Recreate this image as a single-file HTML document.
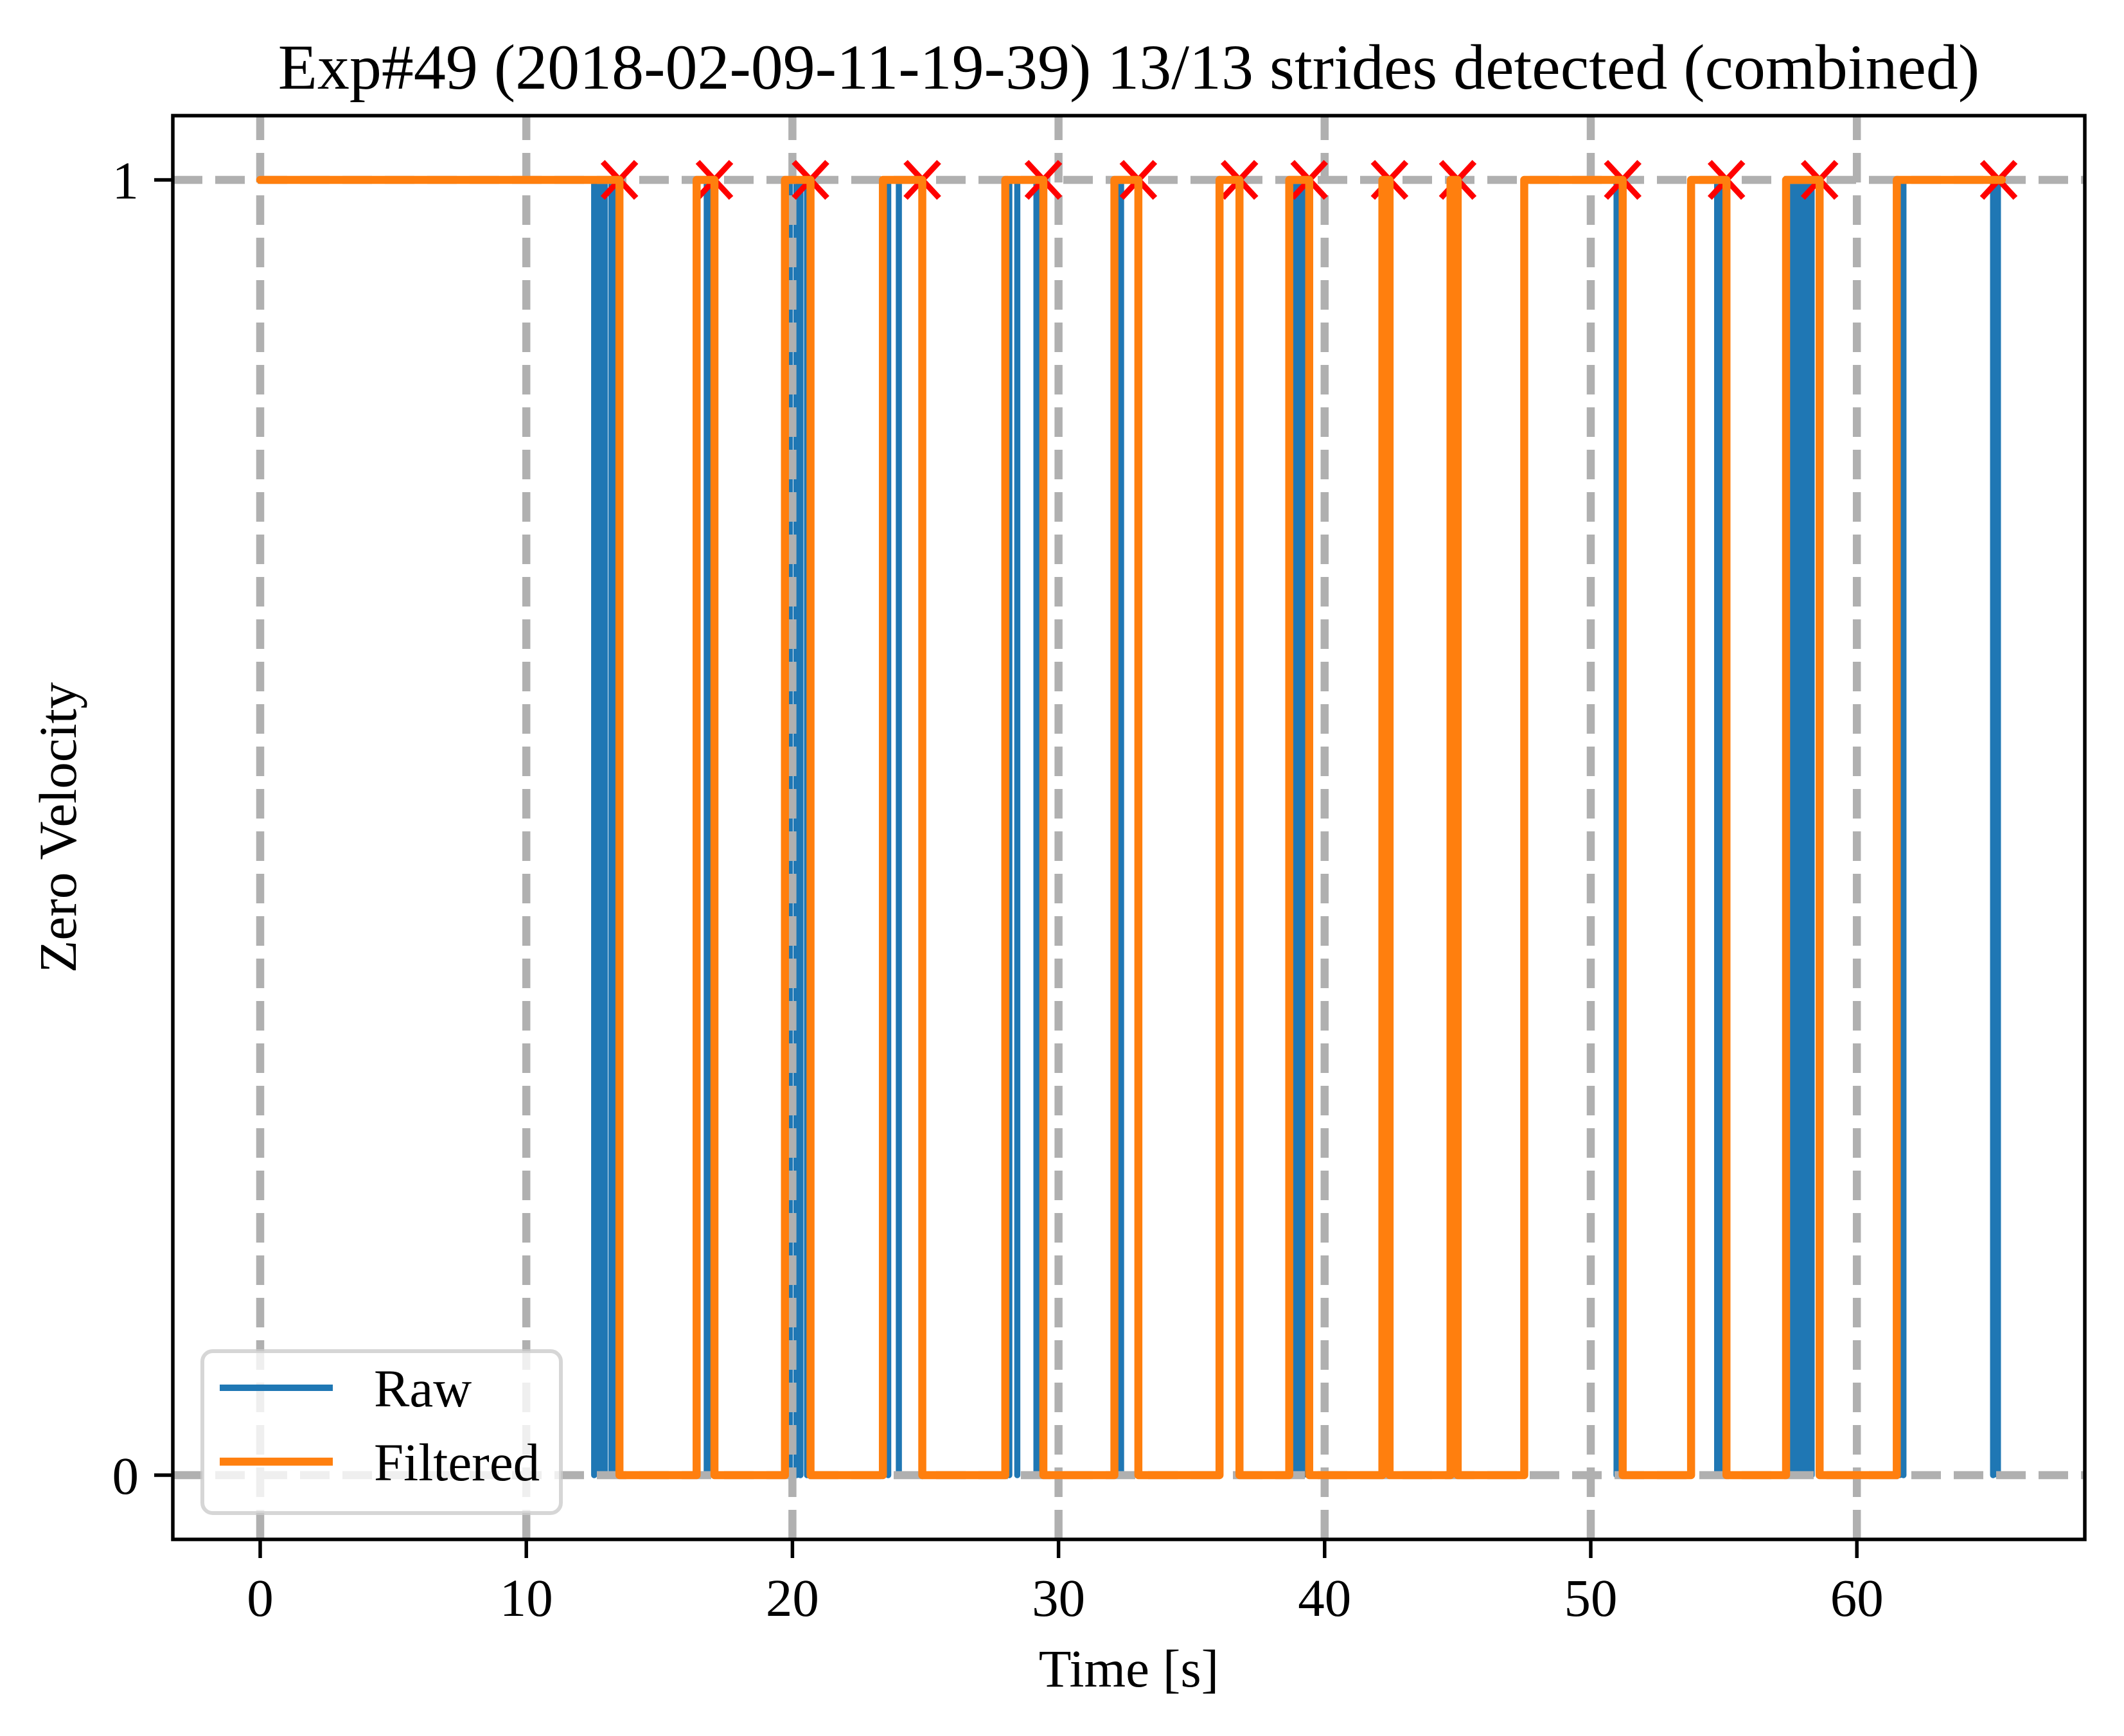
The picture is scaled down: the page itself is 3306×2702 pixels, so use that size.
<!DOCTYPE html>
<html><head><meta charset="utf-8"><style>
html,body{margin:0;padding:0;background:#fff;}
svg{display:block;}
text{font-family:"Liberation Serif","DejaVu Serif",serif;fill:#000;}
</style></head><body>
<svg id="chart" width="3306" height="2702" viewBox="0 0 3306 2702" xmlns="http://www.w3.org/2000/svg">
<defs><clipPath id="plotclip"><rect x="269" y="180" width="2976" height="2216"/></clipPath></defs>
<rect x="0" y="0" width="3306" height="2702" fill="#fff"/>
<text x="1757" y="138" font-size="100" text-anchor="middle">Exp#49 (2018-02-09-11-19-39) 13/13 strides detected (combined)</text>
<g id="rawlayer" clip-path="url(#plotclip)"></g>
<g id="grid" clip-path="url(#plotclip)"></g>
<g id="marks" clip-path="url(#plotclip)"></g>
<g id="axes"></g>
<text x="1757" y="2625" font-size="83" text-anchor="middle">Time [s]</text>
<text transform="translate(118,1288) rotate(-90)" font-size="83" text-anchor="middle">Zero Velocity</text>
<g>
<rect x="315" y="2103" width="558" height="252" rx="16" ry="16" fill="rgba(255,255,255,0.8)" stroke="rgba(204,204,204,0.8)" stroke-width="6"/>
<g>
<line x1="342" y1="2160" x2="518" y2="2160" stroke="#1f77b4" stroke-width="10"/>
<text x="582" y="2189" font-size="83">Raw</text></g>
<g>
<line x1="342" y1="2275" x2="518" y2="2275" stroke="#ff7f0e" stroke-width="12.5"/>
<text x="582" y="2304" font-size="83">Filtered</text></g>
</g>
</svg>
<script>
const xTicks = [0, 10, 20, 30, 40, 50, 60];
const yTicks = [0, 1];
const rawRise = [0, 12.75, 13.2, 16.78, 19.9, 20.3, 23.6, 28.15, 29.17, 32.25, 38.8, 39.05, 47.5, 54.75, 57.6, 57.9, 58.15, 61.6, 65.12];
const rawFall = [12.55, 12.95, 13.3, 16.86, 20.15, 20.55, 24.0, 28.45, 29.27, 32.35, 38.9, 39.2, 50.97, 54.85, 57.75, 58.05, 58.3, 61.75, 65.3];
const filtRise = [0, 16.4, 19.72, 23.4, 28.0, 32.1, 36.05, 38.67, 42.17, 44.73, 47.5, 53.77, 57.34, 61.5];
const filtFall = [13.5, 17.07, 20.68, 24.88, 29.43, 33.0, 36.8, 39.42, 42.44, 45.0, 51.2, 55.1, 58.6];
const filtEnd = 65.45;
const strideTimes = [13.5, 17.07, 20.68, 24.88, 29.43, 33.0, 36.8, 39.42, 42.44, 45.0, 51.2, 55.1, 58.6, 65.33];
const strideValues = [1,1,1,1,1,1,1,1,1,1,1,1,1,1];

const NS = "http://www.w3.org/2000/svg";
const X0 = 405, XS = 41.42;
function xs(t){ return X0 + t*XS; }
function ys(v){ return 2296 - v*(2296-280); }
function mk(tag, attrs, parent){ const e=document.createElementNS(NS,tag); for(const k in attrs) e.setAttribute(k, attrs[k]); parent.appendChild(e); return e; }

const grid = document.getElementById('grid');
const marks = document.getElementById('marks');
const rawLayer = document.getElementById('rawlayer');
const axes = document.getElementById('axes');
const gs = {stroke:'#b0b0b0','stroke-width':12.5,'stroke-dasharray':'46 20'};
xTicks.forEach(t=>{
  const l = mk('line', Object.assign({x1:xs(t),x2:xs(t),y1:2396,y2:180}, gs), grid);
  
  
});
yTicks.forEach(v=>{
  const l = mk('line', Object.assign({x1:269,x2:3245,y1:ys(v),y2:ys(v)}, gs), grid);
  
  
});

strideTimes.forEach((t,i)=>{
  const cx = xs(t), cy = ys(strideValues[i]);
  const p = mk('path', {d:`M${cx-26},${cy-28}L${cx+26},${cy+28}M${cx-26},${cy+28}L${cx+26},${cy-28}`, stroke:'#ff0000','stroke-width':9, fill:'none'}, marks);
  
  
});

// raw transitions: vertical edges only (horizontal runs hidden under grid / filtered line)
let rd = '';
rawRise.concat(rawFall).forEach(t=>{
  if(t <= 0) return;
  rd += `M${xs(t)},${ys(0)}L${xs(t)},${ys(1)}`;
});
const raw = mk('path', {d:rd, stroke:'#1f77b4','stroke-width':9.5, fill:'none','stroke-linecap':'round'}, rawLayer);



function stepPath(rise, fall, end){
  let d = '';
  let first = true;
  const ev = [];
  rise.forEach(t=>ev.push([t,1]));
  fall.forEach(t=>ev.push([t,0]));
  ev.sort((a,b)=>a[0]-b[0]);
  let cur = null;
  ev.forEach(([t,v])=>{
    if(first){ d += `M${xs(t)},${ys(v)}`; first=false; cur=v; return; }
    d += `L${xs(t)},${ys(cur)}L${xs(t)},${ys(v)}`; cur=v;
  });
  d += `L${xs(end)},${ys(cur)}`;
  return d;
}
const filt = mk('path', {d:stepPath(filtRise, filtFall, filtEnd), stroke:'#ff7f0e','stroke-width':12.5, fill:'none','stroke-linejoin':'round','stroke-linecap':'round'}, marks);



const sp = mk('rect', {x:269,y:180,width:2976,height:2216,fill:'none',stroke:'#000','stroke-width':5.5}, axes);


xTicks.forEach(t=>{
  const l = mk('line', {x1:xs(t),x2:xs(t),y1:2396,y2:2425,stroke:'#000','stroke-width':5.5}, axes);
  
  
  const tx = mk('text', {x:xs(t),y:2515,'font-size':83,'text-anchor':'middle'}, axes);
  tx.textContent = String(t);
  
  
});
yTicks.forEach(v=>{
  const l = mk('line', {x1:240,x2:269,y1:ys(v),y2:ys(v),stroke:'#000','stroke-width':5.5}, axes);
  
  
  const tx = mk('text', {x:216,y:ys(v)+29,'font-size':83,'text-anchor':'end'}, axes);
  tx.textContent = String(v);
  
  
});
</script>
</body></html>
